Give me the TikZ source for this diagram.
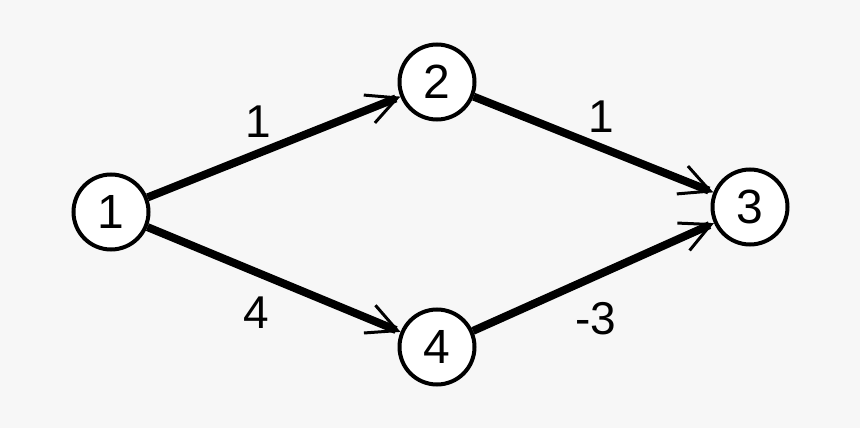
\documentclass[tikz,border=0pt]{standalone}
\usepackage{fontspec}
\setmainfont{Liberation Sans}
\usetikzlibrary{arrows.meta}
\definecolor{bgc}{HTML}{F7F7F7}
\begin{document}
\begin{tikzpicture}[x=1pt,y=-1pt,
  vertex/.style={circle,draw=black,fill=white,line width=4pt,minimum size=75pt,inner sep=0pt,font=\fontsize{48}{48}\selectfont},
  edge/.style={line width=8pt,-{Straight Barb[length=30pt,width=30pt,line width=3pt]}},
  wlabel/.style={font=\fontsize{46}{46}\selectfont,inner sep=0pt}]
\fill[bgc] (0,0) rectangle (860,428);
\useasboundingbox (0,0) rectangle (860,428);
\node[vertex] (n1) at (111,212) {1};
\node[vertex] (n2) at (437,82) {2};
\node[vertex] (n3) at (750,207) {3};
\node[vertex] (n4) at (437,347) {4};
\draw[edge] (n1) -- (n2);
\draw[edge] (n1) -- (n4);
\draw[edge] (n2) -- (n3);
\draw[edge] (n4) -- (n3);
\node[wlabel] (l12) at (258,122) {1};
\node[wlabel] (l23) at (601,117) {1};
\node[wlabel] (l14) at (256,313) {4};
\node[wlabel] (l43) at (596,319) {-3};
\end{tikzpicture}
\end{document}
